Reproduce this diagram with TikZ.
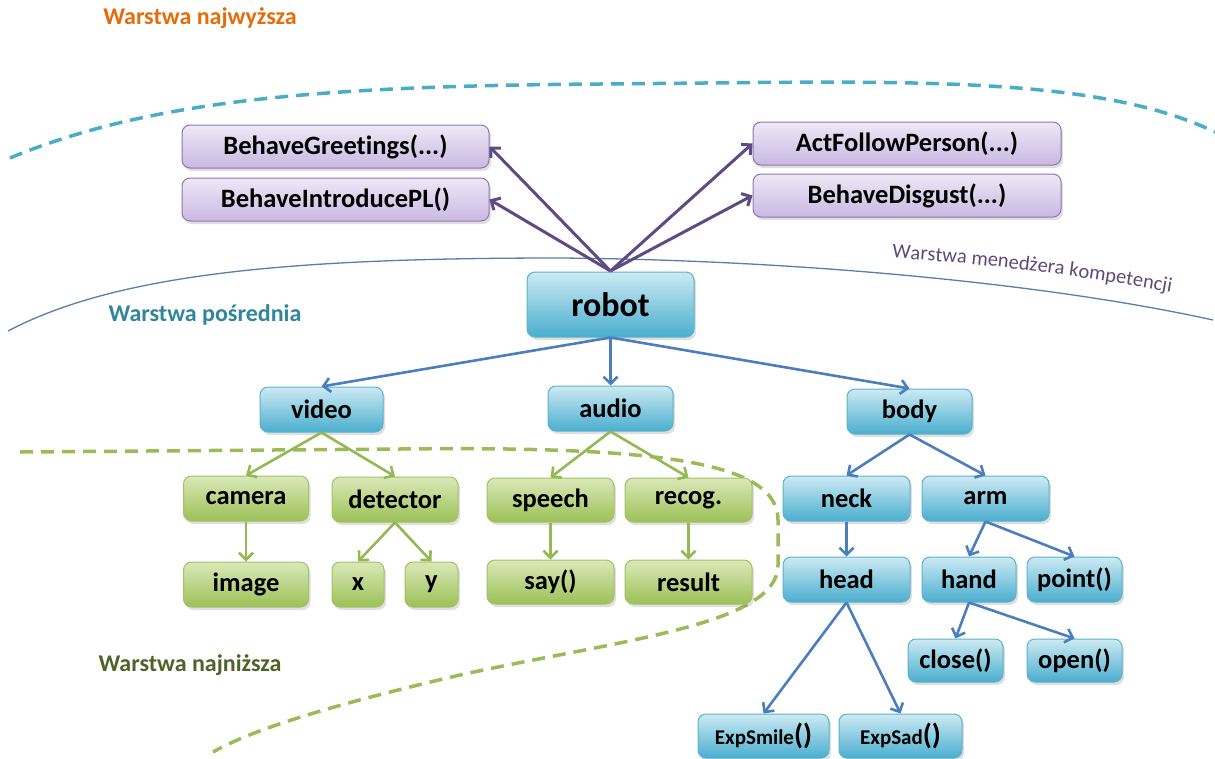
\documentclass[tikz,border=0pt]{standalone}
\usepackage{fontspec}
\setmainfont[Ligatures=NoCommon]{Carlito}
\usetikzlibrary{arrows.meta,shadows,decorations.text}

\definecolor{pBorder}{HTML}{8E76B0}
\definecolor{pTop}{HTML}{EEE8F6}
\definecolor{pBot}{HTML}{C9B8E2}
\definecolor{bBorder}{HTML}{5BB2CC}
\definecolor{bTop}{HTML}{CDEAF3}
\definecolor{bBot}{HTML}{4AAECF}
\definecolor{gBorder}{HTML}{A2C266}
\definecolor{gTop}{HTML}{DAE9B8}
\definecolor{gBot}{HTML}{9CC057}
\definecolor{pArrow}{HTML}{5E4A84}
\definecolor{bArrow}{HTML}{4C7EBD}
\definecolor{gArrow}{HTML}{93B854}
\definecolor{topDash}{HTML}{4BACC6}
\definecolor{midLine}{HTML}{5C7DA8}
\definecolor{lowDash}{HTML}{9BBB59}
\definecolor{orangeLbl}{HTML}{E46C0A}
\definecolor{tealLbl}{HTML}{31859C}
\definecolor{oliveLbl}{HTML}{4F6228}
\definecolor{mgrLbl}{HTML}{5F497A}

\tikzset{
  box/.style={rounded corners=8pt, line width=1pt, inner sep=0pt,
    font=\bfseries\fontsize{26.5}{26.5}\selectfont, text=black,
    drop shadow={opacity=0.25, shadow xshift=2pt, shadow yshift=-3pt}},
  pbox/.style={box, draw=pBorder, top color=pTop, bottom color=pBot},
  bbox/.style={box, draw=bBorder, top color=bTop, bottom color=bBot},
  gbox/.style={box, draw=gBorder, top color=gTop, bottom color=gBot},
  sz/.style 2 args={minimum width=#1pt, minimum height=#2pt},
  tip/.style={-{Straight Barb[length=7pt,width=14pt]}},
  parr/.style={tip, draw=pArrow, line width=3pt},
  barr/.style={tip, draw=bArrow, line width=2.6pt},
  garr/.style={tip, draw=gArrow, line width=2.6pt},
  layer/.style={font=\bfseries\fontsize{24}{24}\selectfont},
}

\begin{document}
\begin{tikzpicture}[x=1pt, y=-1pt]
\useasboundingbox (0,0) rectangle (1215,758);

% layer boundaries
\draw[topDash, line width=3.5pt, dash pattern=on 13pt off 8pt]
  (10,158) .. controls (150,100) and (320,86) .. (600,84)
  .. controls (880,82) and (1090,72) .. (1215,132);
\draw[midLine, line width=1.3pt]
  (8,331) .. controls (120,272) and (300,258) .. (560,258)
  .. controls (800,260) and (1050,284) .. (1213,320);
\draw[lowDash, line width=3.5pt, dash pattern=on 13pt off 8pt]
  (20,452) -- (400,449) .. controls (660,446) and (778,462) .. (778,520)
  -- (778,565) .. controls (778,625) and (620,640) .. (460,675)
  .. controls (340,703) and (255,728) .. (213,752);

% layer labels
\node[layer, text=orangeLbl] (lTop) at (200,18) {Warstwa najwyższa};
\node[layer, text=tealLbl] (lMid) at (205,315) {Warstwa pośrednia};
\node[layer, text=oliveLbl] (lLow) at (190,665) {Warstwa najniższa};
\path[decorate, decoration={text along path, text color=mgrLbl,
    text={|\fontsize{20.5}{20.5}\selectfont|Warstwa menedżera kompetencji}}]
  (892,258) .. controls (990,264) and (1080,276) .. (1175,293);

% competence manager behaviours
\node[pbox, sz={307}{43}] (greet) at (335.5,146.5) {BehaveGreetings(...)};
\node[pbox, sz={307}{43}] (intro) at (335.5,199.5) {BehaveIntroducePL()};
\node[pbox, sz={308}{43}] (follow) at (907,143.5) {ActFollowPerson(...)};
\node[pbox, sz={308}{43}] (disgust) at (907,195.5) {BehaveDisgust(...)};

% robot tree
\node[bbox, sz={167}{65}, font=\bfseries\fontsize{34}{34}\selectfont] (robot) at (610.5,304.5) {robot};
\node[bbox, sz={123}{45}] (video) at (321.5,409.5) {video};
\node[bbox, sz={125}{45}] (audio) at (610.5,408.5) {audio};
\node[bbox, sz={125}{45}] (body) at (909.5,411.5) {body};

\node[gbox, sz={125}{45}] (camera) at (246,498.5) {camera};
\node[gbox, sz={126}{45}] (detector) at (395,499.5) {detector};
\node[gbox, sz={125}{45}] (image) at (246,584.5) {image};
\node[gbox, sz={52}{45}] (xnode) at (358,584.5) {x};
\node[gbox, sz={53}{45}] (ynode) at (431.5,584.5) {y};
\node[gbox, sz={127}{44}] (speech) at (550.5,500) {speech};
\node[gbox, sz={127}{44}] (recog) at (688.5,500) {recog.};
\node[gbox, sz={127}{44}] (say) at (550.5,582) {say()};
\node[gbox, sz={127}{44}] (result) at (688.5,582) {result};

\node[bbox, sz={127}{45}] (neck) at (846.5,498.5) {neck};
\node[bbox, sz={127}{45}] (arm) at (985.5,498.5) {arm};
\node[bbox, sz={127}{45}] (head) at (846.5,579.5) {head};
\node[bbox, sz={94}{45}] (hand) at (969,579.5) {hand};
\node[bbox, sz={95}{45}] (point) at (1074.5,579.5) {point()};
\node[bbox, sz={95}{43}] (close) at (955.5,660.5) {close()};
\node[bbox, sz={95}{43}] (open) at (1074.5,660.5) {open()};
\node[bbox, sz={131}{44}, font=\bfseries\fontsize{21}{21}\selectfont] (smile) at (763.5,736)
  {ExpSmile{\fontsize{29}{29}\selectfont()}};
\node[bbox, sz={123}{44}, font=\bfseries\fontsize{21}{21}\selectfont] (sad) at (900.5,736)
  {ExpSad{\fontsize{29}{29}\selectfont()}};

% connectors to the behaviours
\coordinate (hub) at (610.5,271);
\draw[parr] (hub) -- (greet.east);
\draw[parr] (hub) -- (intro.east);
\draw[parr] (hub) -- (follow.west);
\draw[parr] (hub) -- (disgust.west);

% tree connectors
\draw[barr] (robot.south) -- (video.north);
\draw[barr] (robot.south) -- (audio.north);
\draw[barr] (robot.south) -- (body.north);

\draw[garr] (video.south) -- (camera.north);
\draw[garr] (video.south) -- (detector.north);
\draw[garr] (camera.south) -- (image.north);
\draw[garr] (detector.south) -- (xnode.north);
\draw[garr] (detector.south) -- (ynode.north);
\draw[garr] (audio.south) -- (speech.north);
\draw[garr] (audio.south) -- (recog.north);
\draw[garr] (speech.south) -- (say.north);
\draw[garr] (recog.south) -- (result.north);

\draw[barr] (body.south) -- (neck.north);
\draw[barr] (body.south) -- (arm.north);
\draw[barr] (neck.south) -- (head.north);
\draw[barr] (arm.south) -- (hand.north);
\draw[barr] (arm.south) -- (point.north);
\draw[barr] (head.south) -- (smile.north);
\draw[barr] (head.south) -- (sad.north);
\draw[barr] (hand.south) -- (close.north);
\draw[barr] (hand.south) -- (open.north);
\end{tikzpicture}
\end{document}
